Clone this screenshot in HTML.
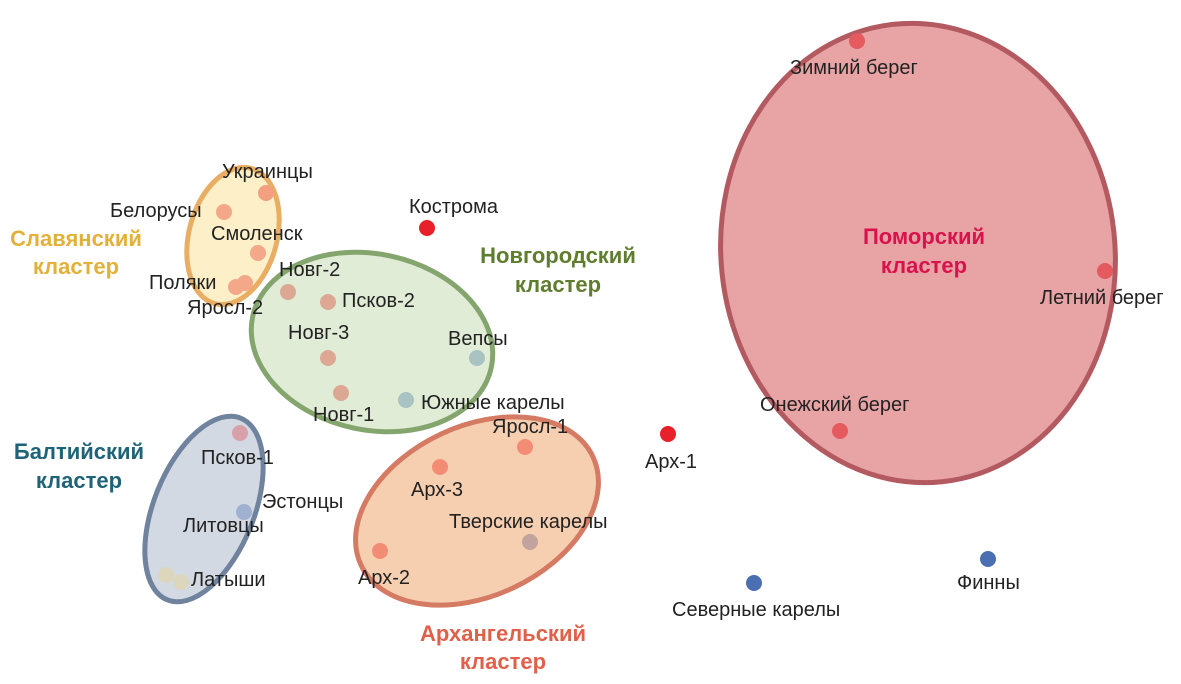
<!DOCTYPE html>
<html><head><meta charset="utf-8"><style>
body{margin:0;background:#fff}
svg text{font-family:"Liberation Sans",sans-serif;font-size:20px;fill:#222}
.c{font-size:22px;font-weight:bold;text-anchor:middle}
</style></head><body>
<svg width="1181" height="679" viewBox="0 0 1181 679" xmlns="http://www.w3.org/2000/svg">
<ellipse cx="918" cy="253" rx="197" ry="230" transform="rotate(-6 918 253)" fill="#e8a3a4" stroke="#b35a60" stroke-width="5"/>
<ellipse cx="233" cy="236" rx="44" ry="70" transform="rotate(15 233 236)" fill="#fdf0c8" stroke="#e9ad63" stroke-width="5"/>
<ellipse cx="372" cy="342" rx="122" ry="88" transform="rotate(12 372 342)" fill="#e0ecd6" stroke="#85a56f" stroke-width="5"/>
<ellipse cx="204" cy="509" rx="50" ry="98" transform="rotate(22 204 509)" fill="#d3d9e3" stroke="#6f839e" stroke-width="5"/>
<ellipse cx="477" cy="511" rx="128" ry="85" transform="rotate(-25 477 511)" fill="#f6cfb0" stroke="#d57a63" stroke-width="5"/>
<g>
<circle cx="266" cy="193" r="8" fill="#f3a080"/>
<circle cx="224" cy="212" r="8" fill="#f3a88a"/>
<circle cx="258" cy="253" r="8" fill="#f3a88a"/>
<circle cx="245" cy="283" r="8" fill="#f3a88a"/>
<circle cx="236" cy="287" r="8" fill="#f3a88a"/>
<circle cx="427" cy="228" r="8" fill="#e8202a"/>
<circle cx="288" cy="292" r="8" fill="#dca894"/>
<circle cx="328" cy="302" r="8" fill="#dca894"/>
<circle cx="328" cy="358" r="8" fill="#dca894"/>
<circle cx="341" cy="393" r="8" fill="#dca894"/>
<circle cx="477" cy="358" r="8" fill="#a9c2c2"/>
<circle cx="406" cy="400" r="8" fill="#a9c2c2"/>
<circle cx="240" cy="433" r="8" fill="#d8a0a8"/>
<circle cx="244" cy="512" r="8" fill="#9fb0d0"/>
<circle cx="166" cy="575" r="8" fill="#dcd6bc"/>
<circle cx="181" cy="582" r="8" fill="#dcd6bc"/>
<circle cx="525" cy="447" r="8" fill="#f28c74"/>
<circle cx="440" cy="467" r="8" fill="#f28c74"/>
<circle cx="530" cy="542" r="8" fill="#c3a39d"/>
<circle cx="380" cy="551" r="8" fill="#f28c74"/>
<circle cx="668" cy="434" r="8" fill="#e8202a"/>
<circle cx="857" cy="41" r="8" fill="#e55a5e"/>
<circle cx="1105" cy="271" r="8" fill="#e55a5e"/>
<circle cx="840" cy="431" r="8" fill="#e55a5e"/>
<circle cx="754" cy="583" r="8" fill="#4a6fb3"/>
<circle cx="988" cy="559" r="8" fill="#4a6fb3"/>
</g>
<text x="222" y="178">Украинцы</text>
<text x="110" y="217">Белорусы</text>
<text x="211" y="240">Смоленск</text>
<text x="149" y="289">Поляки</text>
<text x="187" y="314">Яросл-2</text>
<text x="409" y="213">Кострома</text>
<text x="279" y="276">Новг-2</text>
<text x="342" y="307">Псков-2</text>
<text x="288" y="339">Новг-3</text>
<text x="448" y="345">Вепсы</text>
<text x="313" y="421">Новг-1</text>
<text x="421" y="409">Южные карелы</text>
<text x="492" y="433">Яросл-1</text>
<text x="411" y="496">Арх-3</text>
<text x="449" y="528">Тверские карелы</text>
<text x="358" y="584">Арх-2</text>
<text x="201" y="464">Псков-1</text>
<text x="262" y="508">Эстонцы</text>
<text x="183" y="532">Литовцы</text>
<text x="191" y="586">Латыши</text>
<text x="645" y="468">Арх-1</text>
<text x="790" y="74">Зимний берег</text>
<text x="1040" y="304">Летний берег</text>
<text x="760" y="411">Онежский берег</text>
<text x="672" y="616">Северные карелы</text>
<text x="957" y="589">Финны</text>
<text class="c" x="76" y="246" style="fill:#e3b13a">Славянский</text>
<text class="c" x="76" y="274" style="fill:#e3b13a">кластер</text>
<text class="c" x="558" y="263" style="fill:#5f7d2e">Новгородский</text>
<text class="c" x="558" y="292" style="fill:#5f7d2e">кластер</text>
<text class="c" x="79" y="459" style="fill:#1e6377">Балтийский</text>
<text class="c" x="79" y="488" style="fill:#1e6377">кластер</text>
<text class="c" x="503" y="641" style="fill:#e0604a">Архангельский</text>
<text class="c" x="503" y="669" style="fill:#e0604a">кластер</text>
<text class="c" x="924" y="244" style="fill:#d8124d">Поморский</text>
<text class="c" x="924" y="273" style="fill:#d8124d">кластер</text>
</svg>
</body></html>
